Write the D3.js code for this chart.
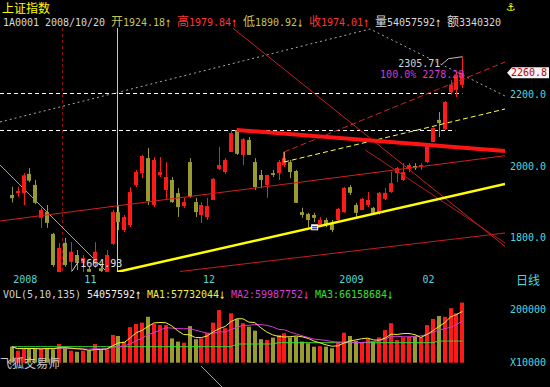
<!DOCTYPE html>
<html>
<head>
<meta charset="utf-8">
<script src="https://cdn.jsdelivr.net/npm/d3@7"></script>
<style>
  body { margin: 0; background: #000; }
  svg { display: block; }
  .mono { font-family: "DejaVu Sans Mono", "Liberation Mono", monospace; font-size: 10px; }
  .cjk { font-family: "Noto Sans CJK SC", sans-serif; font-size: 12px; }
</style>
</head>
<body>
<div id="chart"></div>
<script>
// daily candles, 2008/10/16 .. 2009/02/11
const opens = [1919, 1924, 1924.18, 1978, 1947, 1855, 1871, 1810, 1700, 1785,
  1732, 1751, 1729, 1712, 1729, 1714, 1700, 1782, 1871, 1821,
  1835, 1947, 1980, 2022, 1891, 1975, 1933, 1961, 1924, 1888,
  2011, 1899, 1863, 1857, 1905, 1992, 1983, 2039, 2101, 2031,
  2073, 2011, 1975, 1947, 1980, 1980, 2003, 2011, 1986, 1871,
  1866, 1863, 1835, 1849, 1841, 1849, 1871, 1941, 1891, 1877,
  1891, 1883, 1869, 1908, 1927, 1980, 1961, 1992, 2000, 1997,
  2011, 2067, 2129, 2103, 2206, 2213, 2227];
const highs = [1942, 1942, 1979.84, 1994, 1961, 1883, 1891, 1813, 1785, 1799,
  1787, 1765, 1751, 1718, 1787, 1720, 1765, 1877, 1891, 1863,
  1941, 1989, 2031, 2050, 2025, 2025, 2011, 1969, 1938, 1911,
  2022, 1911, 1899, 1911, 1966, 2053, 2022, 2101, 2106, 2078,
  2081, 2022, 1989, 1975, 1989, 2017, 2039, 2017, 1989, 1883,
  1869, 1869, 1857, 1855, 1849, 1883, 1941, 1947, 1897, 1911,
  1927, 1885, 1927, 1939, 1983, 1997, 2008, 2008, 2008, 2008,
  2059, 2108, 2151, 2182, 2240, 2263, 2305.71];
const lows = [1898, 1914, 1890.92, 1955, 1893, 1827, 1827, 1718, 1664.93, 1718,
  1690, 1709, 1700, 1690, 1715, 1695, 1690, 1779, 1821, 1815,
  1829, 1941, 1966, 1891, 1885, 1969, 1905, 1897, 1857, 1883,
  1911, 1857, 1841, 1849, 1905, 1989, 1978, 2039, 2031, 2003,
  2031, 1933, 1938, 1911, 1969, 1961, 1997, 1966, 1897, 1855,
  1829, 1843, 1829, 1829, 1815, 1843, 1869, 1919, 1857, 1877,
  1885, 1863, 1863, 1905, 1925, 1955, 1958, 1983, 1989, 1989,
  2008, 2067, 2081, 2101, 2199, 2193, 2218];
const closes = [1910, 1930, 1974.01, 1959, 1897, 1877, 1841, 1723, 1771, 1723,
  1760, 1729, 1743, 1704, 1760, 1706, 1751, 1871, 1843, 1857,
  1927, 1983, 2028, 1902, 2017, 1983, 1969, 1899, 1885, 1899,
  1913, 1871, 1891, 1888, 1964, 2003, 2017, 2092, 2034, 2075,
  2031, 1941, 1961, 1975, 1975, 2011, 2022, 1983, 1897, 1863,
  1849, 1855, 1849, 1835, 1821, 1880, 1939, 1925, 1869, 1908,
  1905, 1869, 1925, 1925, 1952, 1994, 1983, 2003, 1994, 2003,
  2056, 2106, 2120, 2179, 2228, 2255, 2260.8];
const volumes = [60000, 45000, 54058, 54000, 52000, 52000, 54000, 50000, 70000, 54000,
  45000, 41000, 45000, 44000, 70000, 47000, 50000, 104000, 100000, 79000,
  133000, 145000, 150000, 172000, 145000, 141000, 141000, 91000, 79000, 75000,
  137000, 88000, 91000, 112000, 150000, 197000, 129000, 185000, 163000, 148000,
  135000, 120000, 88000, 85000, 94000, 104000, 110000, 95000, 97000, 79000,
  73000, 60000, 62000, 60000, 54000, 79000, 112000, 100000, 82000, 75000,
  91000, 79000, 95000, 122000, 148000, 85000, 95000, 97000, 100000, 95000,
  141000, 164000, 175000, 172000, 204000, 185000, 225000];
// 135-day volume average as drawn (older history not in view)
const volMA3 = [60000, 60000, 60000, 60000, 60000, 60000, 60000, 60000, 60000, 60000,
  60000, 60000, 60000, 60000, 60000, 60000, 60000, 60000, 60000, 60000,
  60000, 60000, 60000, 60000, 60000, 60000, 60000, 60000, 60000, 60000,
  60000, 60000, 60000, 60000, 60000, 60000, 60000, 60000, 70000, 70000,
  70000, 70000, 70000, 70000, 70000, 75000, 75000, 75000, 75000, 75000,
  75000, 75000, 75000, 75000, 75000, 75000, 75000, 75000, 75000, 75000,
  75000, 75000, 75000, 75000, 75000, 75000, 75000, 75000, 75000, 75000,
  75000, 75000, 81000, 81000, 81000, 81000, 81000];

const dateTicks = [0, 12, 32, 55, 69];
const dateLabels = ["2008", "11", "12", "2009", "02"];
const priceTicks = [1800, 2000, 2200];
const volTicks = [0, 200000];

// drawn objects, [candle index, price]
const thickRedLine = [[37.94, 2100.7], [83.19, 2042.0]];
const channelRedLine = [[-1.97, 1846.2], [83.19, 2028.8]];
const lowRedLine = [[28.38, 1704.9], [83.19, 1812.6]];
const dashRedLine = [[45.92, 2039.2], [83.19, 2290.9]];
const dashYellowLine = [[45.92, 2011.2], [83.19, 2159.4]];
const joinYellowLine = [[45.92, 2039.2], [45.92, 2011.2]];
const thickYellowLine = [[17.76, 1703.5], [83.19, 1949.7]];
const diagRedLine = [[37.27, 2386.0], [83.19, 1775.1]];
const diagRedLine2 = [[59.63, 2044.8], [83.19, 1784.6]];
const dottedGrayLine = [[-1.97, 2123.1], [60.42, 2383.2], [83.19, 2195.8]];
const whiteDiagLine = [[-1.97, 2002.8], [35.46, 1381.8]];
const hDashLines = [[2203.4, 76], [2100.7, 74.8]];
const cursorIdx = 17.76;
const markIdx = 8.48;
const lastPrice = 2260.8;
const fibText = "100.0% 2278.28";

const W = 550, H = 387;
const UP = "#ff1a1a", DOWN = "#9a9a32";
const CYAN = "#50d8d8";

const svg = d3.select("#chart").append("svg")
  .attr("width", W).attr("height", H)
  .style("background", "#000");

const x = d3.scaleLinear().domain([0, 76]).range([11.7, 462.4]);
const y = d3.scaleLinear().domain([1800, 2200]).range([237.5, 94.5]);
const yv = d3.scaleLinear().domain([0, 200000]).range([362.7, 309.3]);

const defs = svg.append("defs");
defs.append("clipPath").attr("id", "pclip")
  .append("rect").attr("x", 0).attr("y", 28).attr("width", 505).attr("height", 244);
defs.append("clipPath").attr("id", "bclip")
  .append("rect").attr("x", 0).attr("y", 366).attr("width", 505).attr("height", 21);

const line = d3.line().x(d => x(d[0])).y(d => y(d[1]));

const candles = opens.map((o, i) => ({
  i: i, o: o, h: highs[i], l: lows[i], c: closes[i], v: volumes[i]
}));

// ---- header
svg.append("text").attr("class", "cjk").attr("x", 2).attr("y", 13)
  .attr("fill", "#ffff00").text("上证指数");
svg.append("text").attr("x", 506).attr("y", 11)
  .style("font-family", "DejaVu Sans").style("font-size", "11px")
  .attr("fill", "#ffff00").text("⚓");

function drawSegments(segs, x0, yb) {
  let cx = x0;
  segs.forEach(([t, col]) => {
    for (const ch of t) {
      const cjk = /[\u4e00-\u9fff]/.test(ch);
      const arrow = ch === "↑" || ch === "↓";
      if (ch !== " ") {
        const el = svg.append("text").attr("class", cjk ? "cjk" : "mono")
          .attr("fill", col).text(ch);
        if (arrow) {
          el.attr("transform", `translate(${cx},${yb + 1}) scale(1,1.4)`);
        } else {
          el.attr("x", cx).attr("y", yb);
        }
      }
      cx += cjk ? 12 : 6;
    }
  });
}

const f2 = d3.format(".2f");
const INFO = "#d8d8d8", OLV = "#c4c45a", RED = "#ff3434";
drawSegments([
  ["1A0001 2008/10/20 ", INFO],
  ["开" + f2(opens[2]) + "↑ ", OLV],
  ["高" + f2(highs[2]) + "↑ ", RED],
  ["低" + f2(lows[2]) + "↓ ", OLV],
  ["收" + f2(closes[2]) + "↑ ", RED],
  ["量54057592↑ 额3340320", INFO]
], 3, 26);

// ---- price panel
const pg = svg.append("g").attr("clip-path", "url(#pclip)");

pg.selectAll(".hdash").data(hDashLines).enter().append("line")
  .attr("x1", 0).attr("x2", d => x(d[1]))
  .attr("y1", d => Math.round(y(d[0])) + 0.5).attr("y2", d => Math.round(y(d[0])) + 0.5)
  .attr("stroke", "#ffffff").attr("stroke-dasharray", "4,3");

pg.append("path").attr("d", line(dottedGrayLine))
  .attr("fill", "none").attr("stroke", "#a8a8a8").attr("stroke-dasharray", "2,3");

pg.append("line")
  .attr("x1", Math.round(x(markIdx)) + 0.5).attr("x2", Math.round(x(markIdx)) + 0.5)
  .attr("y1", 28).attr("y2", 272)
  .attr("stroke", "#8a1414").attr("stroke-dasharray", "3,3");

pg.append("line")
  .attr("x1", Math.round(x(cursorIdx)) + 0.5).attr("x2", Math.round(x(cursorIdx)) + 0.5)
  .attr("y1", 28).attr("y2", 272)
  .attr("stroke", "#c8c8c8");

pg.append("path").attr("d", line(whiteDiagLine))
  .attr("fill", "none").attr("stroke", "#d0d0d0").attr("stroke-width", 0.8);
svg.append("path").attr("clip-path", "url(#bclip)").attr("d", line(whiteDiagLine))
  .attr("fill", "none").attr("stroke", "#d0d0d0").attr("stroke-width", 0.8);

// candles
const cg = pg.selectAll(".candle").data(candles).enter().append("g")
  .attr("fill", d => d.c >= d.o ? UP : DOWN);
cg.append("rect")
  .attr("x", d => Math.round(x(d.i)))
  .attr("width", 1)
  .attr("y", d => y(d.h))
  .attr("height", d => y(d.l) - y(d.h));
cg.append("rect")
  .attr("x", d => Math.round(x(d.i)) - 2)
  .attr("width", 4)
  .attr("y", d => y(Math.max(d.o, d.c)))
  .attr("height", d => Math.max(1, Math.abs(y(d.o) - y(d.c))));

// trend lines
pg.append("path").attr("d", line(channelRedLine))
  .attr("fill", "none").attr("stroke", "#d21e1e");
pg.append("path").attr("d", line(lowRedLine))
  .attr("fill", "none").attr("stroke", "#c81e1e");
pg.append("path").attr("d", line(diagRedLine))
  .attr("fill", "none").attr("stroke", "#c82020");
pg.append("path").attr("d", line(diagRedLine2))
  .attr("fill", "none").attr("stroke", "#b41c1c");
pg.append("path").attr("d", line(dashRedLine))
  .attr("fill", "none").attr("stroke", "#d82020").attr("stroke-dasharray", "6,3");
pg.append("path").attr("d", line(dashYellowLine))
  .attr("fill", "none").attr("stroke", "#ffff40").attr("stroke-dasharray", "5,3");
pg.append("path").attr("d", line(joinYellowLine))
  .attr("fill", "none").attr("stroke", "#e0e080");
pg.append("path").attr("d", line(thickYellowLine))
  .attr("fill", "none").attr("stroke", "#ffff00").attr("stroke-width", 2.5);
pg.append("path").attr("d", line(thickRedLine))
  .attr("fill", "none").attr("stroke", "#ff1414").attr("stroke-width", 4);

// marker on the support line
const mi = 51;
const t = (mi - thickYellowLine[0][0]) / (thickYellowLine[1][0] - thickYellowLine[0][0]);
const mp = thickYellowLine[0][1] + t * (thickYellowLine[1][1] - thickYellowLine[0][1]);
pg.append("rect").attr("x", x(mi) - 3).attr("y", y(mp) - 3).attr("width", 7).attr("height", 6)
  .attr("fill", "#ffffff");
pg.append("rect").attr("x", x(mi) - 2).attr("y", y(mp) - 1).attr("width", 5).attr("height", 1)
  .attr("fill", "#000060");
pg.append("rect").attr("x", x(mi) - 2).attr("y", y(mp) + 1).attr("width", 5).attr("height", 1)
  .attr("fill", "#000060");

// low / high annotations
const lowI = lows.indexOf(d3.min(lows));
const highI = highs.indexOf(d3.max(highs));
pg.append("line")
  .attr("x1", x(lowI) + 13).attr("y1", 271).attr("x2", x(lowI) + 19).attr("y2", 262)
  .attr("stroke", "#d0d0d0");
pg.append("text").attr("class", "mono").attr("x", x(lowI) + 21).attr("y", 267)
  .attr("fill", "#e0e0e0").text(f2(lows[lowI]));

pg.append("path")
  .attr("d", `M${x(highI) - 21},${y(highs[highI]) + 8}L${x(highI) - 14},${y(highs[highI]) + 2}L${x(highI)},${y(highs[highI])}`)
  .attr("fill", "none").attr("stroke", "#c0c0c0");
svg.append("text").attr("class", "mono").attr("text-anchor", "end")
  .attr("x", x(highI) - 22).attr("y", y(highs[highI]) + 10)
  .attr("fill", "#d0d0d0").text(f2(highs[highI]));
svg.append("text").attr("class", "mono").attr("text-anchor", "end")
  .attr("x", x(highI) + 2).attr("y", y(highs[highI]) + 21)
  .attr("fill", "#d838d8").text(fibText);

// ---- price axis
const pAxis = svg.append("g").attr("transform", "translate(507,0)")
  .call(d3.axisRight(y).tickValues(priceTicks).tickFormat(d3.format(".1f"))
    .tickSize(0).tickPadding(3));
pAxis.select(".domain").remove();
pAxis.attr("font-size", null).attr("font-family", null);
pAxis.selectAll("text").attr("class", "mono").attr("fill", CYAN);

// last price tag
const ly = y(lastPrice);
svg.append("path")
  .attr("d", `M507,${ly}L512,${ly - 5.5}L549,${ly - 5.5}L549,${ly + 5.5}L512,${ly + 5.5}Z`)
  .attr("fill", "#f4f4f4");
svg.append("text").attr("class", "mono").attr("x", 511).attr("y", ly + 3.5)
  .attr("fill", "#c00000").text(d3.format(".1f")(lastPrice));

// ---- date axis
const dAxis = svg.append("g").attr("transform", "translate(0,275.5)")
  .call(d3.axisBottom(x).tickValues(dateTicks).tickFormat((d, k) => dateLabels[k])
    .tickSize(0).tickPadding(0));
dAxis.select(".domain").remove();
dAxis.attr("font-size", null).attr("font-family", null);
dAxis.selectAll("text").attr("class", "mono").attr("fill", CYAN)
  .attr("text-anchor", "start").attr("dx", 1);
svg.append("text").attr("class", "cjk").attr("x", 516).attr("y", 285)
  .attr("fill", CYAN).text("日线");

// ---- volume panel
const ma = n => volumes.map((v, i) => d3.mean(volumes.slice(Math.max(0, i - n + 1), i + 1)));
const volMA1 = ma(5), volMA2 = ma(10);
const fmtInt = d3.format("d");

drawSegments([
  ["VOL(5,10,135) ", "#d0d0d0"],
  ["54057592↑ ", "#f0f0f0"],
  ["MA1:57732044↓ ", "#f0f040"],
  ["MA2:59987752↓ ", "#d838d8"],
  ["MA3:66158684↓", "#30e030"]
], 3, 298);

svg.selectAll(".vbar").data(candles).enter().append("rect")
  .attr("x", d => Math.round(x(d.i)) - 2)
  .attr("width", 4)
  .attr("y", d => yv(d.v))
  .attr("height", d => yv(0) - yv(d.v))
  .attr("fill", d => d.c >= d.o ? UP : DOWN);

const vline = d3.line().x((d, i) => x(i)).y(d => yv(d));
svg.append("path").attr("d", vline(volMA3)).attr("fill", "none")
  .attr("stroke", "#30e030").attr("stroke-width", 1);
svg.append("path").attr("d", vline(volMA2)).attr("fill", "none")
  .attr("stroke", "#d838d8").attr("stroke-width", 1);
svg.append("path").attr("d", vline(volMA1)).attr("fill", "none")
  .attr("stroke", "#f0f040").attr("stroke-width", 1);

const vAxis = svg.append("g").attr("transform", "translate(507,0)")
  .call(d3.axisRight(yv).tickValues(volTicks)
    .tickFormat(d => d === 0 ? "X10000" : fmtInt(d)).tickSize(0).tickPadding(3));
vAxis.select(".domain").remove();
vAxis.attr("font-size", null).attr("font-family", null);
vAxis.selectAll("text").attr("class", "mono").attr("fill", CYAN);

svg.append("text").attr("class", "cjk").attr("x", 0).attr("y", 368)
  .attr("fill", "#c8c8c8").text("飞狐交易师");
</script>
</body>
</html>
